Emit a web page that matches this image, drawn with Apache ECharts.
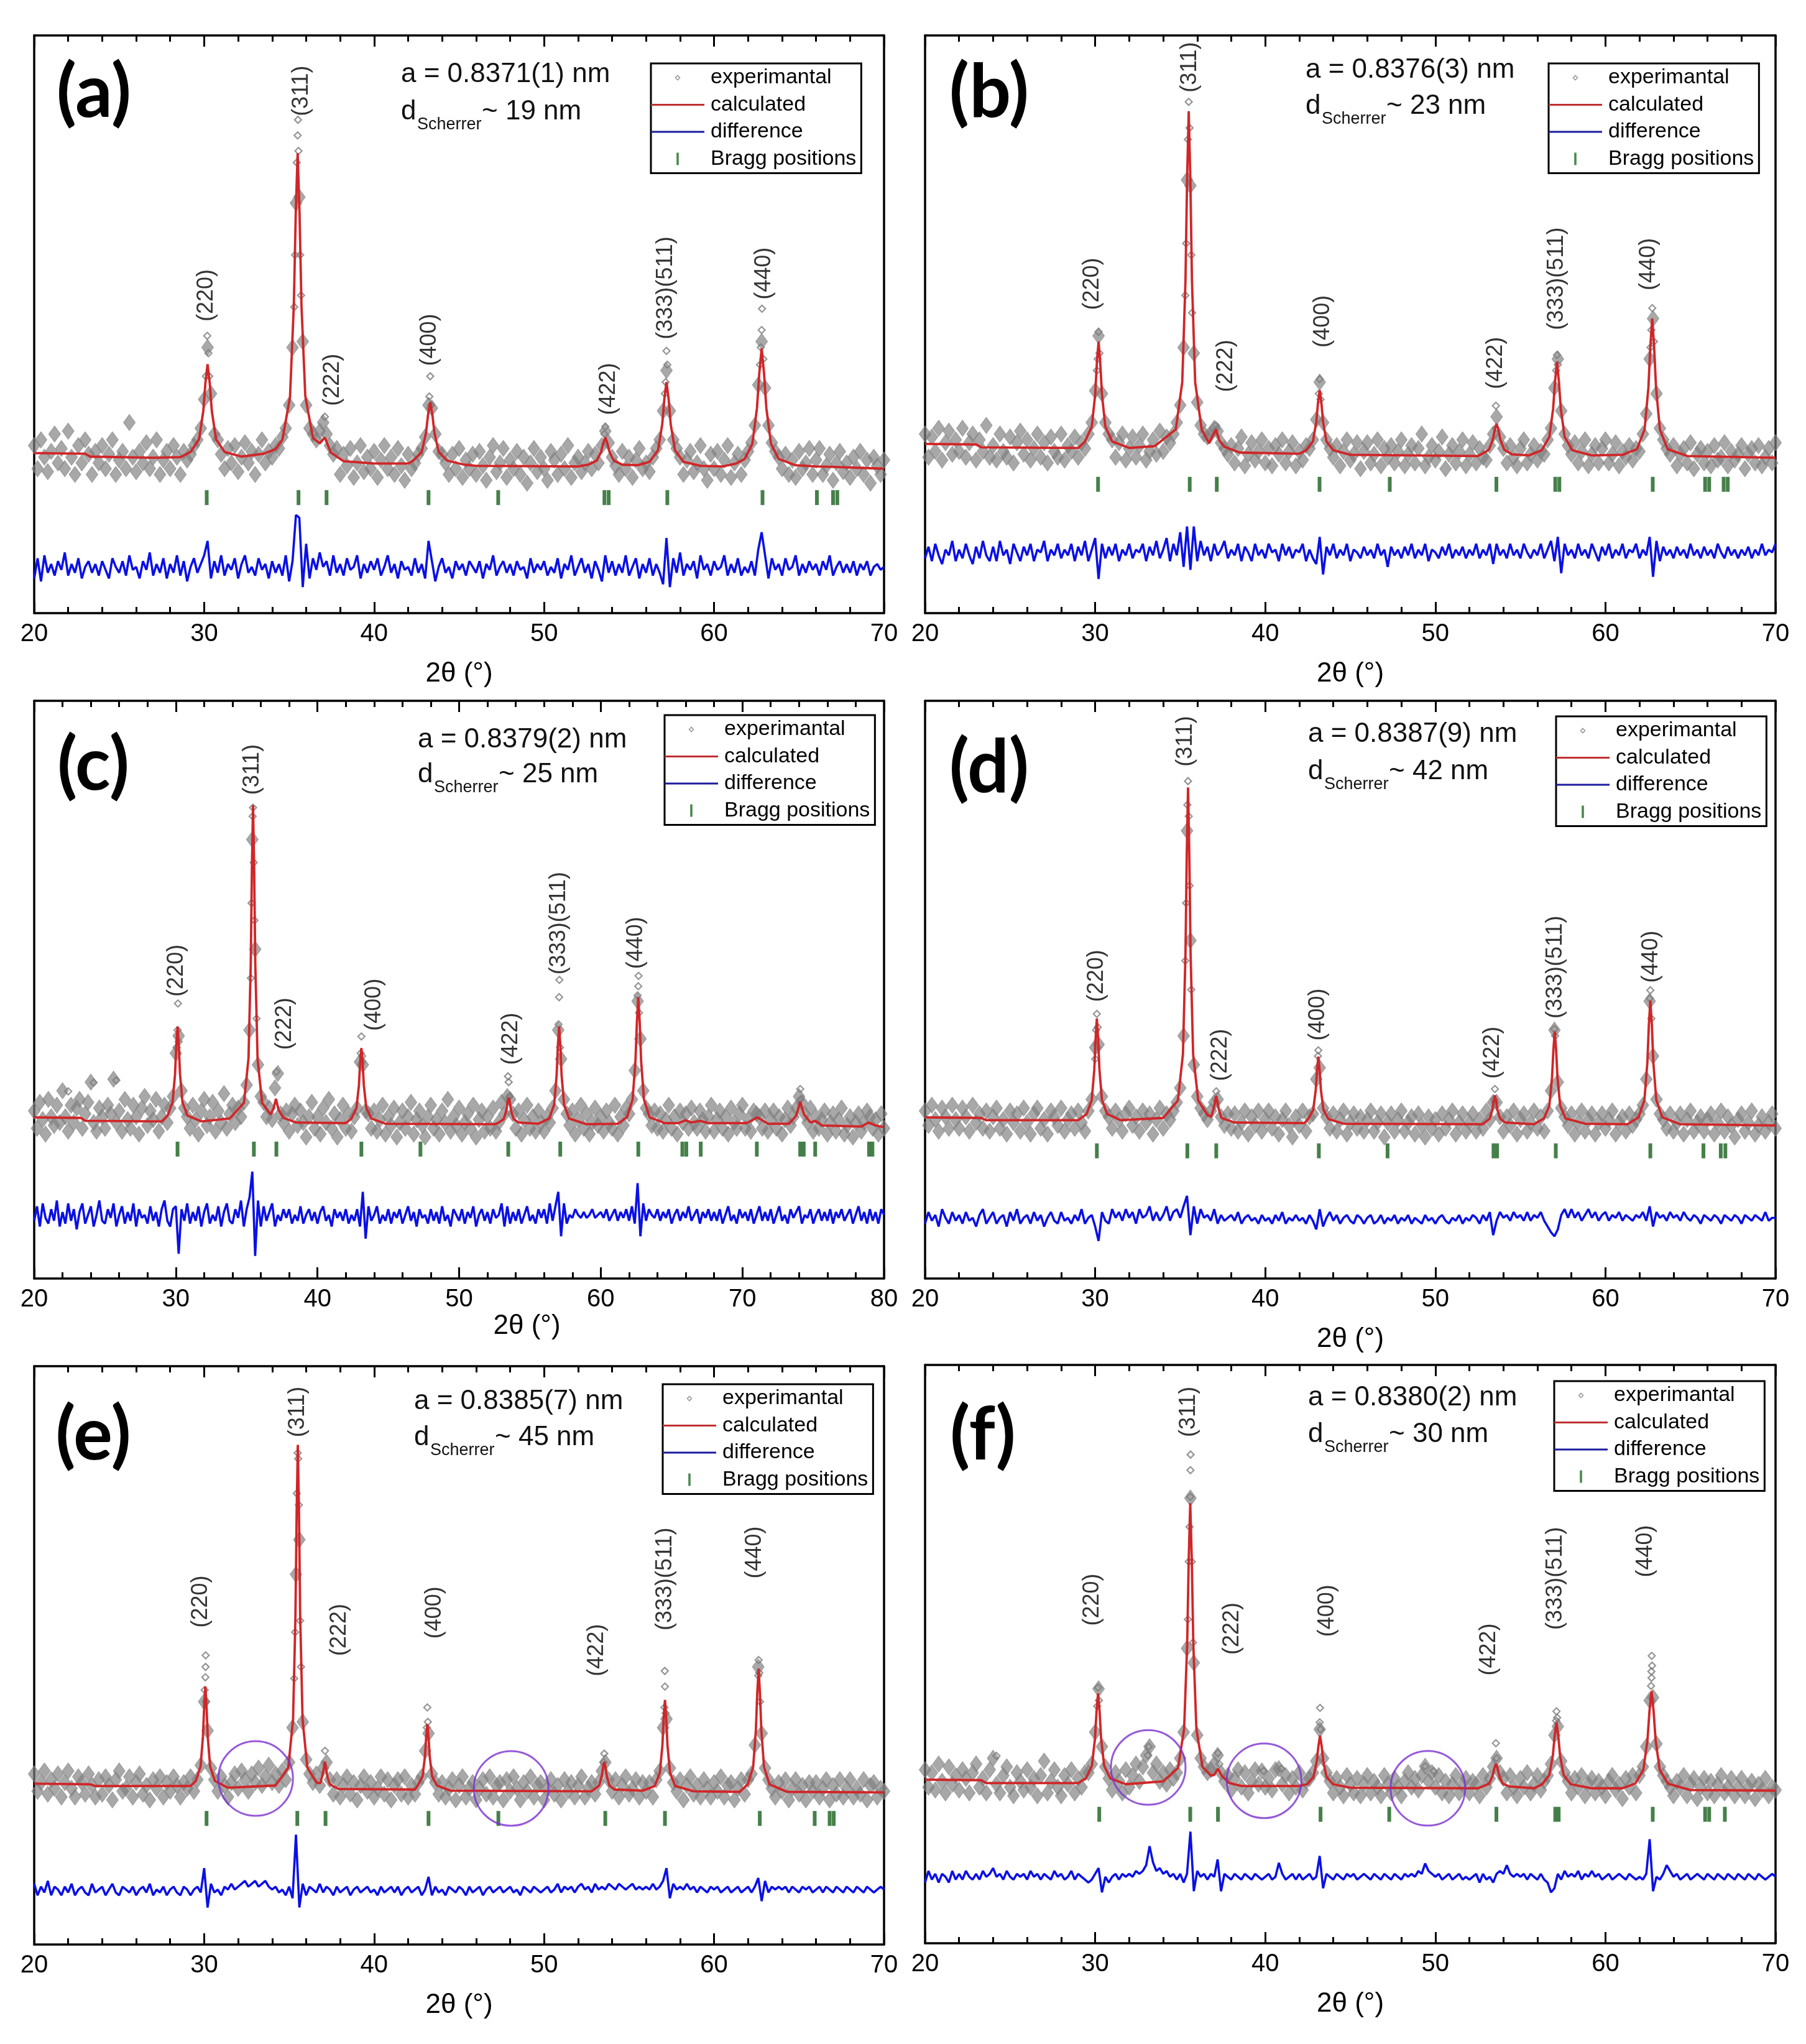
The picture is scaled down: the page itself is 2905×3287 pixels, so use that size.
<!DOCTYPE html>
<html lang="en">
<head>
<meta charset="UTF-8">
<title>XRD Rietveld refinement (a)-(f)</title>
<script src="https://cdn.jsdelivr.net/npm/echarts/dist/echarts.min.js"></script>
<style>
  html, body { margin: 0; padding: 0; background: #fff; }
  #chart { width: 2905px; height: 3287px; }
</style>
</head>
<body>
<div id="chart"></div>
<script>
// experimental points and difference curve are sampled every 0.2 deg from 20 deg
const X0 = 20, STEP = 0.2;

// ---------- panel (a) ----------
const calcA = [[20,27.7],[23,27.6],[23.3,27.1],[27,26.9],[28.6,27.0],[29.2,27.9],[29.7,30.1],[29.95,35.0],[30.075,39.9],[30.2,43.1],[30.325,39.9],[30.45,35.0],[30.7,30.1],[31.2,27.9],[32.2,27.1],[33.5,27.6],[34.2,28.4],[34.6,30.0],[35.05,37.4],[35.275,53.3],[35.39,69.4],[35.5,79.6],[35.61,69.4],[35.725,53.3],[35.95,37.6],[36.4,30.3],[36.8,29.4],[37.1,30.4],[37.45,27.8],[38.2,26.3],[40,25.9],[42,25.9],[42.3,26.4],[42.8,27.9],[43.05,31.2],[43.175,34.4],[43.3,36.5],[43.425,34.4],[43.55,31.2],[43.8,27.9],[44.3,26.4],[45.3,25.7],[46,25.5],[52,25.4],[52.6,25.7],[53.1,26.4],[53.35,27.9],[53.475,29.4],[53.6,30.4],[53.725,29.4],[53.85,27.9],[54.1,26.4],[54.6,25.7],[55.5,25.6],[56.2,26.2],[56.7,28.2],[56.95,32.7],[57.075,37.1],[57.2,40.0],[57.325,37.1],[57.45,32.7],[57.7,28.2],[58.2,26.2],[59.2,25.5],[60.5,25.4],[61.3,25.9],[61.8,26.7],[62.25,29.3],[62.525,35.5],[62.66,41.5],[62.8,45.8],[62.94,41.5],[63.075,35.5],[63.35,29.3],[63.8,26.7],[64.8,25.6],[66,25.4],[67.1,25.3],[70,25.0]];
const expA = [
  29, 25, 30, 27, 24.5, 28, 31, 26, 28.5, 25,
  31.5, 27, 24, 29, 26, 30, 27.5, 24, 28, 26,
  29, 25, 27.5, 30, 24, 26.5, 28, 25, 33, 27,
  24.5, 28, 26, 29.5, 25, 27, 30, 24, 26.5, 28,
  25, 29, 27, 24, 28, 26.5, 27.5, 29, 30, 32,
  37, 46, 38, 31, 30, 27.5, 25, 28.5, 26, 29,
  24.5, 27, 29.5, 26, 28, 24, 27.5, 30, 26, 28,
  27, 29, 28.5, 30.5, 32, 36, 46, 71, 72, 47,
  36, 32, 31, 30, 31.5, 33, 31, 29, 27.5, 28.5,
  24, 27.5, 25.5, 28.5, 23.5, 26, 29, 24.5, 27, 25,
  28, 23.5, 26.5, 29, 25, 27, 24, 28.5, 25.5, 23,
  27.5, 25, 26, 27.5, 28.5, 30.5, 36, 35.5, 31, 28,
  27.5, 26, 24, 27.5, 25, 28.5, 23.5, 26.5, 25, 27.5,
  24, 28, 25.5, 23, 27, 29, 24.5, 26, 28.5, 23.5,
  26.5, 25, 28, 24, 27, 22.5, 26, 28.5, 24.5, 27,
  25, 23, 28, 26.5, 24, 27.5, 25, 29, 23.5, 26,
  27, 24.5, 26, 28, 25, 27.5, 26, 29, 31.5, 29.5,
  27, 25.5, 24, 28, 25, 27, 23.5, 26.5, 28.5, 25,
  26, 24.5, 27, 28.5, 30, 35, 42, 35, 30, 28.5,
  27, 24, 26.5, 28, 24.5, 26, 29, 25, 23, 27.5,
  25, 28, 24, 26.5, 29, 23.5, 26, 27.5, 24, 26.5,
  28, 29.5, 32.5, 39.5, 47, 39, 32.5, 29.5, 28, 27,
  25, 27.5, 24, 26.5, 23.5, 28, 25, 26, 28.5, 24,
  26.5, 28.5, 24, 25.5, 27.5, 23, 26, 28, 24.5, 26,
  23.5, 27, 25, 28, 24, 26.5, 22.5, 27, 25.5, 24,
  26.5];
const expTopA = [[30.1,41],[30.25,45],[30.18,48],[30.3,41],[35.45,78],[35.5,82.7],[35.52,85.4],[35.35,62],[35.55,80],[35.65,62],[35.3,53],[35.7,55],[37.1,34],[43.25,37.5],[43.3,41],[43.35,36],[53.55,31],[53.6,32.3],[57.15,40],[57.2,45.4],[57.25,43],[57.1,38],[62.75,46],[62.8,49],[62.82,52.7],[62.7,43],[62.9,44]];
const diffA = [
  6, 9.5, 5.5, 10, 7, 8.5, 6.5, 9, 7.5, 10.5,
  6.5, 8.5, 7, 9.5, 6, 8, 9, 7, 8.5, 6.5,
  9, 7.5, 6, 9.5, 8, 7, 9, 6.5, 10, 7.5,
  8, 6, 9, 7.5, 10.5, 6.5, 8.5, 7, 9.5, 6,
  8.5, 7, 10, 6.5, 9, 5.5, 8, 9.5, 7, 8.5,
  10, 12.5, 6, 9, 7, 10, 6.5, 8.5, 7.5, 9.5,
  6, 8.5, 10, 7, 8, 6.5, 9.5, 7.5, 8.5, 6,
  9, 7, 8.5, 6.5, 10, 5.5, 9, 17, 16.5, 4.5,
  12, 6, 9.5, 7.5, 10.5, 8, 9, 6.5, 10, 7,
  8.5, 6.5, 9.5, 7.5, 8, 10, 6, 8.5, 7, 9,
  7.5, 9.5, 6.5, 8, 10, 7, 8.5, 6, 9, 7.5,
  8, 6.5, 9.5, 7, 8.5, 6, 12.5, 9, 5.5, 8,
  9.5, 7, 8, 6, 9, 7.5, 8.5, 6.5, 9, 8,
  7, 9, 6, 8.5, 7.5, 10, 6.5, 8, 9, 7,
  8.5, 6.5, 9, 7.5, 8, 6, 9.5, 7, 8.5, 7.5,
  9, 6.5, 8, 7, 9.5, 6, 8.5, 7.5, 10, 6.5,
  8, 9.5, 7, 8.5, 6, 9, 7.5, 5.5, 10, 7,
  9, 6.5, 8.5, 7, 10, 6.5, 8, 9.5, 6, 8.5,
  7, 9.5, 6.5, 8.5, 7, 5, 13, 4.5, 9.5, 7,
  10.5, 6.5, 8.5, 7.5, 9, 6, 10, 7.5, 8.5, 6.5,
  9, 7.5, 8, 10, 6.5, 8.5, 7, 9.5, 6.5, 8,
  7, 9, 6.5, 11, 14, 10, 6, 9.5, 7.5, 8.5,
  6.5, 9.5, 7.5, 8, 10, 6.5, 8.5, 7, 9, 7.5,
  8.5, 6.5, 9, 7.5, 10, 6.5, 8, 9, 7, 8.5,
  7, 9, 6.5, 8.5, 7.5, 9, 6.5, 8, 8.5, 7.5,
  8];
const braggA = [30.15, 35.55, 37.2, 43.2, 47.3, 53.55, 53.8, 57.25, 62.85, 66.05, 67.0, 67.25];
const hklA = [[30.15,55.0,'(220)'],[35.72,90.4,'(311)'],[37.55,40.4,'(222)'],[43.26,47.3,'(400)'],[53.8,38.8,'(422)'],[57.16,56.3,'(333)(511)'],[62.95,58.8,'(440)']];

// ---------- panel (b) ----------
const calcB = [[20,29.3],[23,29.2],[23.3,28.7],[29,28.6],[29.4,29.7],[29.8,32.3],[30.0,37.8],[30.1,43.3],[30.2,47.0],[30.3,43.3],[30.4,37.8],[30.6,32.3],[31.0,29.7],[32.0,28.6],[33.5,28.9],[34.74,31.8],[35.12,40.0],[35.31,57.6],[35.405,75.2],[35.5,86.9],[35.595,75.2],[35.69,57.6],[35.88,40.0],[36.26,31.8],[36.7,29.4],[36.9,30.7],[37.1,31.8],[37.3,29.9],[37.6,28.8],[38.5,27.8],[42,27.6],[42.4,28.2],[42.8,29.7],[43.0,33.1],[43.1,36.4],[43.2,38.6],[43.3,36.4],[43.4,33.1],[43.6,29.7],[44.0,28.2],[45,27.4],[52.5,27.2],[52.7,27.5],[53.15,28.3],[53.375,30.0],[53.49,31.7],[53.6,32.8],[53.71,31.7],[53.825,30.0],[54.05,28.3],[54.5,27.5],[55.5,27.3],[56.25,28.2],[56.7,30.5],[56.925,35.4],[57.04,40.2],[57.15,43.5],[57.26,40.2],[57.375,35.4],[57.6,30.5],[58.05,28.2],[59.2,27.3],[61.0,27.4],[61.85,28.4],[62.3,31.8],[62.525,39.0],[62.64,46.2],[62.75,51.0],[62.86,46.2],[62.975,39.0],[63.2,31.8],[63.65,28.4],[64.8,27.2],[70,26.9]];
const expB = [
  31, 27, 30.5, 28, 32, 26.5, 29.5, 31.5, 27.5, 30,
  28, 32, 27, 29.5, 31, 26.5, 30, 28, 32.5, 27,
  29, 26.5, 31, 28, 27, 30.5, 26, 29.5, 31.5, 27.5,
  30, 26.5, 28.5, 31, 27, 29.5, 26, 30.5, 28, 27,
  31, 26.5, 29, 28, 30.5, 27, 29.5, 28.5, 31, 33,
  38.5, 48, 38, 33, 31, 30, 27, 29.5, 31, 26.5,
  28.5, 30.5, 27, 29, 31, 26.5, 28, 30, 27.5, 31.5,
  28, 30.5, 29.5, 31, 33, 36, 46, 75, 74, 45,
  36.5, 32.5, 31, 30.5, 31, 32, 31.5, 29.5, 28.5, 27.5,
  29, 26, 28.5, 30.5, 25.5, 27.5, 29.5, 26.5, 28, 30,
  26, 28.5, 25.5, 29, 27.5, 30, 26, 28, 29.5, 25.5,
  28, 26.5, 29, 28.5, 30, 33.5, 40, 33, 30, 28.5,
  27, 29, 25.5, 28, 30, 26.5, 27.5, 29.5, 25, 28,
  29.5, 26, 27.5, 30, 25.5, 28.5, 27, 29, 26, 28,
  30, 25.5, 27.5, 29, 26, 28.5, 31, 25.5, 27, 29,
  26.5, 28, 30.5, 25, 27.5, 29, 26, 28, 30, 25.5,
  27.5, 29.5, 26, 28.5, 27, 26.5, 29, 31, 34, 30.5,
  28.5, 26, 29, 27, 25.5, 28.5, 30, 26, 27.5, 29,
  26.5, 28, 27.5, 30, 32, 39, 44, 35, 31, 29,
  27.5, 29.5, 26, 28, 30, 25.5, 27.5, 29, 26, 28.5,
  30, 26, 27.5, 29.5, 25.5, 28, 27, 29, 26.5, 28.5,
  28, 31, 34.5, 44, 51, 38, 32, 30, 28.5, 27.5,
  29, 25.5, 27.5, 28.5, 26, 29.5, 25, 27.5, 28.5, 26,
  28, 25.5, 29, 26.5, 27, 29.5, 25.5, 28, 26.5, 27.5,
  29, 25, 27.5, 28.5, 26, 29, 25.5, 27, 28.5, 26,
  29.5];
const expTopB = [[30.1,42],[30.15,44],[30.25,45],[30.2,48.7],[35.45,82],[35.5,88.5],[35.55,84],[35.35,64],[35.65,62],[35.3,55],[35.7,52],[37.1,32.5],[43.15,38],[43.2,40.5],[43.25,37],[53.55,32],[53.56,35.9],[57.1,42],[57.15,44.7],[57.2,43],[62.65,46],[62.7,49],[62.75,52.8],[62.85,47]];
const diffB = [
  9.5, 11.5, 9, 12, 10, 8.5, 11, 10, 12.5, 9,
  11, 9.5, 12, 10, 8.5, 11.5, 9.5, 12.5, 10, 9,
  11.5, 9, 12.5, 10, 11, 8.5, 12, 10.5, 9, 11.5,
  10, 12, 9, 11, 10.5, 12.5, 9, 11, 10, 12,
  9.5, 11, 10, 12, 9, 11.5, 10, 12.5, 9, 11,
  13, 5.9, 12, 9.5, 11.5, 10, 12, 9, 11, 10,
  12, 9.5, 11, 10.5, 12, 9, 11.5, 10, 12.5, 9.5,
  11, 13, 9, 12, 10, 14, 8, 15, 7.5, 15,
  9, 12.5, 10, 11.5, 9, 12, 10, 11, 12.5, 9.5,
  11, 10, 12, 9, 11.5, 10.5, 9, 12, 10, 11,
  9.5, 12, 10.5, 11, 9, 12, 10, 11.5, 9.5, 11,
  10.5, 12, 9, 11, 9.5, 8.5, 13.2, 6.7, 11.5, 10,
  12, 9.5, 11, 10, 12, 9, 11, 10.5, 9.5, 11.5,
  10, 11, 9.5, 12, 10, 11, 8, 11.5, 10, 11,
  9.5, 11.5, 10, 12, 9.5, 11, 10, 12, 9, 11,
  10.5, 9.5, 11.5, 10, 12, 9.5, 11, 10, 11.5, 9.5,
  11, 10, 12, 9.5, 11, 10, 12, 8.5, 12, 10,
  11, 9.5, 12, 10, 11, 9.5, 12, 10.5, 9.5, 11,
  10, 12, 9.5, 11, 12.5, 9, 13.2, 6.9, 12, 10,
  11, 9.5, 12, 10, 11, 9.5, 12, 10.5, 9, 11.5,
  10, 12, 9.5, 11, 10, 12, 9.5, 11, 10.5, 12,
  9.5, 11, 10, 13.2, 6.3, 12.5, 9, 11.5, 10, 11,
  9.5, 11.5, 10, 11, 9.5, 12, 10, 11, 9.5, 11.5,
  10, 11, 9.5, 12, 10.5, 9.5, 11.5, 10, 11, 9.5,
  11, 10, 11.5, 9.5, 11, 10, 12, 10, 11, 10.5,
  12];
const braggB = [30.17, 35.56, 37.15, 43.19, 47.32, 53.59, 57.05, 57.29, 62.78, 65.86, 66.1, 66.95, 67.19];
const hklB = [[29.83,57.0,'(220)'],[35.59,94.5,'(311)'],[37.7,42.8,'(222)'],[43.39,50.5,'(400)'],[53.56,43.3,'(422)'],[57.12,57.9,'(333)(511)'],[62.54,60.4,'(440)']];

// ---------- panel (c) ----------
const calcC = [[20,27.9],[23.3,27.8],[23.6,27.3],[29,27.2],[29.42,28.2],[29.77,30.5],[29.945,35.4],[30.03,40.3],[30.12,43.6],[30.21,40.3],[30.295,35.4],[30.47,30.5],[30.82,28.2],[31.8,27.2],[33.8,27.7],[34.81,30.4],[35.13,38.1],[35.29,54.5],[35.37,71.0],[35.45,81.9],[35.53,71.0],[35.61,54.5],[35.77,38.1],[36.09,30.4],[36.7,28.4],[36.9,29.5],[37.07,31.1],[37.25,29.2],[37.6,27.8],[38.5,27.0],[42.0,26.9],[42.4,27.7],[42.75,29.5],[42.925,33.4],[43.01,37.3],[43.1,39.9],[43.19,37.3],[43.275,33.4],[43.45,29.5],[43.8,27.7],[44.8,26.8],[52.5,26.7],[52.8,27.0],[53.15,27.6],[53.325,29.0],[53.41,30.4],[53.5,31.3],[53.59,30.4],[53.675,29.0],[53.85,27.6],[54.2,27.0],[55.6,26.8],[56.36,27.7],[56.71,30.1],[56.885,35.2],[56.97,40.2],[57.06,43.6],[57.15,40.2],[57.235,35.2],[57.41,30.1],[57.76,27.7],[59.0,26.7],[61.2,26.8],[61.85,27.9],[62.25,31.0],[62.45,37.7],[62.55,44.3],[62.65,48.7],[62.75,44.3],[62.85,37.7],[63.05,31.0],[63.45,27.9],[64.5,26.9],[65.5,26.9],[66.0,27.4],[66.4,27.0],[67.0,27.3],[67.6,26.9],[70.3,26.9],[71.06,27.9],[71.8,26.8],[73.3,26.8],[73.8,28.2],[74.08,30.6],[74.35,28.4],[74.8,27.0],[75.14,27.3],[75.6,26.5],[78.4,26.3],[78.9,27.0],[79.4,26.5],[80,26.2]];
const expC = [
  29, 26, 30.5, 27.5, 25, 31, 28, 26.5, 30, 27,
  32.5, 28, 25.5, 30, 27, 29.5, 31, 26, 28.5, 30.5,
  34, 27, 25.5, 29.5, 28, 26, 30, 28.5, 34.5, 27,
  29, 25.5, 31, 27.5, 26, 30, 28, 25, 29.5, 31.5,
  26.5, 29, 27.5, 31, 25.5, 28, 30, 27, 29.5, 31.5,
  39, 42, 32.5, 29.5, 28, 26, 30, 27.5, 25, 29,
  31, 26.5, 28, 30.5, 25.5, 29, 27, 32, 26, 28.5,
  30, 27, 29.5, 28, 30.5, 33.5, 43, 76, 57, 37,
  31.5, 30.5, 28, 29.5, 27.5, 33, 35.5, 28.5, 27, 29,
  25.5, 28.5, 30, 26.5, 29, 27, 24.5, 28, 30.5, 26,
  28, 25, 29.5, 27, 31, 26, 28.5, 24.5, 27.5, 30,
  26, 28.5, 25.5, 28, 29.5, 37.5, 37, 29, 28.5, 26,
  29, 25.5, 27.5, 30, 25, 28, 26.5, 29.5, 24.5, 27,
  29, 26, 28, 30.5, 25, 27.5, 29, 26.5, 24.5, 28,
  30, 26, 27.5, 25, 29, 27, 31, 25.5, 28, 26.5,
  29.5, 25, 27, 28.5, 26, 30, 24.5, 27.5, 29, 25.5,
  28, 26, 29.5, 25.5, 27, 30.5, 28.5, 31.5, 31, 28.5,
  26, 29, 25, 27.5, 30, 26, 28, 25.5, 29, 27,
  25.5, 28, 27, 29.5, 32.5, 43, 38, 31, 28.5, 26.5,
  29, 25, 27.5, 30, 26, 28.5, 25, 27, 29.5, 26.5,
  28, 25.5, 29, 27, 26, 30, 25, 28, 26.5, 29.5,
  28.5, 31, 36, 48, 41.5, 32.5, 29.5, 28.5, 26.5, 29,
  26, 28.5, 25.5, 27.5, 30, 26, 28, 25, 29, 27,
  28.5, 26, 29.5, 27, 26, 29, 27.5, 25.5, 28, 30,
  25.5, 27.5, 29, 26, 28, 25, 29.5, 27, 26, 28.5,
  30, 26, 27.5, 25.5, 29, 28.5, 28, 26, 29, 25.5,
  27.5, 29, 26, 28, 25, 27.5, 29.5, 26.5, 28, 29.5,
  31.5, 30.5, 28.5, 27, 29.5, 25.5, 28, 26, 27.5, 29,
  25, 27, 28.5, 25.5, 27.5, 29.5, 25, 26.5, 28, 24.5,
  27, 28.5, 25.5, 27, 29, 28, 26, 27.5, 25, 28.5,
  26];
const expTopC = [[22.4,32.4],[24.2,33.9],[25.8,34.3],[30.05,40],[30.12,43],[30.15,47.6],[30.2,41],[35.3,52],[35.35,65],[35.42,80],[35.45,81.5],[35.5,72],[35.55,62],[35.7,45],[37.1,35.8],[43.05,39],[43.1,41.9],[43.15,38.5],[53.45,35],[53.5,34],[53.55,31.5],[57.02,44],[57.06,48.7],[57.08,51.7],[57.12,40],[62.6,49],[62.65,50.6],[62.67,52.4],[62.7,46],[74.08,32.8],[74.1,31]];
const diffC = [
  10, 12.5, 9, 13, 10.5, 9.5, 12, 10, 13.5, 9,
  11.5, 9.5, 13, 10, 12, 8.5, 11.5, 13, 9.5, 11,
  12.5, 9, 11, 13.5, 10, 9.5, 12, 10.5, 13, 9,
  11, 12.5, 9.5, 11.5, 10, 13, 9, 12, 10.5, 11,
  9.5, 12.5, 10, 11.5, 9, 12, 13.5, 10, 9, 12,
  12.5, 4.3, 12, 10, 13, 9.5, 11.5, 10, 12.5, 9,
  11.5, 13, 9.5, 11, 10, 12.5, 9, 11.5, 13, 10,
  9.5, 12, 10.5, 13.5, 9, 12, 14, 18.5, 3.9, 13.5,
  9, 12.5, 10, 11.5, 13, 9, 11, 10, 12, 10.5,
  12, 9.5, 11, 10, 12.5, 9.5, 11, 12, 10, 11.5,
  9.5, 11.5, 12.5, 10, 11, 9, 12, 10.5, 11.5, 10,
  12, 9.5, 11, 10, 12, 9, 15, 6.9, 12.5, 10,
  11, 12.5, 9.5, 11, 10, 12, 9.5, 11.5, 10.5, 12,
  9.5, 11, 12.5, 10, 11.5, 9, 12, 10.5, 11, 9.5,
  12, 10, 11.5, 9.5, 12.5, 10, 11, 9, 12, 11,
  10, 12, 9.5, 11.5, 10.5, 12.5, 9, 11, 12, 10,
  11.5, 9.5, 12, 10.5, 11, 13, 9, 12.5, 9.5, 11.5,
  10, 12, 9.5, 11, 12.5, 10, 11, 9.5, 12, 10.5,
  12, 9.5, 13, 10, 12.5, 15, 7.3, 13, 9.5, 11,
  10.5, 12, 11, 10.5, 11.5, 10.5, 11, 12, 10.5, 11,
  11.5, 10.5, 12, 10, 11, 12, 10, 11.5, 10.5, 12,
  10, 12.5, 9.5, 16.5, 7.3, 13, 10, 12, 11, 10.5,
  12, 10, 11.5, 10.5, 12, 9.5, 11, 12, 10, 11.5,
  10.5, 12.5, 10, 11, 12, 9.5, 11.5, 10.5, 12, 10,
  11.5, 10, 12, 9.5, 11, 12.5, 10, 11, 9.5, 12,
  10.5, 11.5, 10, 12, 9.5, 11, 12.5, 10, 11.5, 10,
  12, 9.5, 11, 12.5, 10, 11, 9.5, 12, 10.5, 11.5,
  12.5, 9.5, 11, 10.5, 12, 9.5, 11, 12, 10, 11.5,
  10, 12, 9.5, 11.5, 10.5, 12, 10, 11, 12, 9.5,
  11, 12.5, 10, 11.5, 9.5, 12, 10, 11.5, 9.5, 12,
  11];
const braggC = [30.12, 35.51, 37.1, 43.1, 47.27, 53.47, 57.14, 62.65, 65.76, 66.04, 67.06, 71.02, 74.08, 74.33, 75.14, 78.94, 79.18];
const hklC = [[30.04,53.3,'(220)'],[35.43,88.1,'(311)'],[37.67,44.1,'(222)'],[44.0,47.4,'(400)'],[53.67,41.5,'(422)'],[57.06,61.5,'(333)(511)'],[62.49,58.1,'(440)']];

// ---------- panel (d) ----------
const calcD = [[20,27.9],[23.3,27.8],[23.6,27.4],[29,27.4],[29.5,28.5],[29.8,30.9],[29.95,36.2],[30.025,41.5],[30.1,45.0],[30.175,41.5],[30.25,36.2],[30.4,30.9],[30.7,28.5],[31.5,27.4],[34.0,27.8],[34.86,30.8],[35.16,38.8],[35.31,56.2],[35.385,73.5],[35.46,85.0],[35.535,73.5],[35.61,56.2],[35.76,38.8],[36.06,30.8],[36.6,28.3],[36.82,28.0],[36.97,29.5],[37.12,31.6],[37.27,29.3],[37.42,27.8],[38.2,27.0],[42.3,26.9],[42.52,27.6],[42.82,29.2],[42.97,32.7],[43.045,36.1],[43.12,38.4],[43.195,36.1],[43.27,32.7],[43.42,29.2],[43.72,27.6],[44.6,26.8],[52.8,26.7],[52.9,27.0],[53.2,27.7],[53.35,29.2],[53.425,30.7],[53.5,31.7],[53.575,30.7],[53.65,29.2],[53.8,27.7],[54.1,27.0],[55.8,26.7],[56.38,27.7],[56.7,29.9],[56.86,34.8],[56.94,39.6],[57.02,42.8],[57.1,39.6],[57.18,34.8],[57.34,29.9],[57.66,27.7],[58.8,26.8],[61.3,26.7],[61.94,27.9],[62.29,30.9],[62.465,37.4],[62.55,43.8],[62.64,48.1],[62.73,43.8],[62.815,37.4],[62.99,30.9],[63.34,27.9],[64.4,26.7],[70,26.5]];
const expD = [
  29, 26.5, 30, 27.5, 25.5, 29.5, 28, 26, 30, 27.5,
  26, 29.5, 28, 25.5, 30, 27, 28.5, 26, 29, 25.5,
  28, 29.5, 26, 27.5, 25, 29, 27, 28.5, 25.5, 29.5,
  27, 25, 28.5, 29.5, 26, 27.5, 25, 29, 28, 26.5,
  29.5, 25.5, 27.5, 28.5, 26, 29, 27, 25.5, 29, 31,
  40, 40.5, 31.5, 29, 28, 26, 29, 27.5, 25.5, 28.5,
  29.5, 26.5, 28, 25.5, 29, 27, 28.5, 25, 27.5, 29.5,
  26, 28.5, 27.5, 29, 30.5, 33, 42, 77.5, 58.5, 37,
  31.5, 29.5, 28.5, 27.5, 29, 30.5, 31, 28, 26.5, 28.5,
  26, 28.5, 25.5, 27, 29, 25, 28, 26.5, 29, 25.5,
  27.5, 29, 26, 28, 25, 27.5, 29, 26.5, 24.5, 28,
  26.5, 29, 25.5, 28, 28.5, 34.5, 36.5, 29.5, 28, 26,
  28.5, 25.5, 27.5, 29, 25, 27, 28.5, 26, 28, 25.5,
  27.5, 29, 25.5, 27, 28.5, 24.5, 27, 28.5, 25.5, 27.5,
  29, 25.5, 27, 28, 25, 28.5, 26.5, 24.5, 28, 26,
  27.5, 25, 28.5, 26, 27.5, 29, 25, 27, 28.5, 25.5,
  27, 28.5, 25.5, 27.5, 26, 29, 27.5, 30.5, 30.5, 28,
  25.5, 28, 26.5, 29, 25, 27.5, 28.5, 25.5, 27, 29,
  26, 28, 25.5, 29, 32.5, 43, 34, 29.5, 28, 26.5,
  28.5, 25, 27, 29, 25.5, 27.5, 28.5, 25, 27, 28.5,
  26, 27.5, 29, 25, 27, 28, 25.5, 28.5, 26.5, 27.5,
  28.5, 30, 34.5, 48, 38.5, 31, 28.5, 27.5, 26, 28.5,
  25.5, 27, 28.5, 25, 27.5, 29, 25.5, 27, 28, 25.5,
  27.5, 28.5, 25, 27, 29, 25.5, 28, 26.5, 24.5, 27.5,
  28.5, 25.5, 27, 29, 25, 26.5, 28, 25.5, 27, 28.5,
  26];
const expTopD = [[30.0,38],[30.05,43],[30.1,45.8],[30.15,43.5],[35.3,55],[35.35,65],[35.42,82],[35.46,86.1],[35.5,80],[35.55,68],[35.65,50],[37.12,32.4],[43.1,38.5],[43.12,39.5],[53.45,31],[53.5,32.8],[57.0,43.2],[57.04,42],[62.6,48.5],[62.64,49.9],[62.7,45]];
const diffD = [
  9.5, 11.5, 10, 11, 9, 12, 10.5, 9.5, 11.5, 10,
  11, 9.5, 11.5, 10, 10.5, 9, 11, 12, 9.5, 10.5,
  11.5, 9.5, 10.5, 11, 9, 11.5, 10, 12, 9.5, 10.5,
  11, 9.5, 11.5, 10, 11, 9, 10.5, 11.5, 10, 9.5,
  11.5, 10, 10.5, 9.5, 11, 10, 12, 9.5, 10.5, 11,
  9, 6.5, 11.5, 10, 9.5, 12, 10.5, 11.5, 10, 12,
  10.5, 11.5, 9.5, 12, 10.5, 11, 12.5, 10, 11.5, 10,
  11, 12.5, 10, 11.5, 12, 10.5, 12.5, 14.3, 7.5, 12.5,
  9.5, 12, 10.5, 11, 10, 12, 9.5, 11, 10, 10.5,
  11, 10, 11.5, 9.5, 10.5, 11, 10, 10.5, 9.5, 11,
  10, 10.5, 9.5, 11, 10, 11.5, 9.5, 10.5, 10, 11,
  10, 10.5, 9.5, 11, 10, 8.5, 12, 9, 10.5, 11.5,
  10, 11, 9.5, 10.5, 11, 10, 9.5, 11, 10.5, 9.5,
  10.5, 11, 9.5, 10, 11, 9.5, 10.5, 10, 11, 9.5,
  10.5, 10, 11, 9.5, 10.5, 10, 9.5, 11, 10, 10.5,
  9.5, 10.5, 11, 10, 9.5, 10.5, 10, 11, 9.5, 10.5,
  10, 11, 10.5, 9.5, 11, 10, 11.5, 7.5, 10, 11.5,
  10.5, 11, 10, 11.5, 10.5, 11, 10, 11.5, 10, 11,
  10.5, 11.5, 10, 9, 8, 7.3, 8.5, 11, 12, 10.5,
  12, 10.5, 11.5, 10, 11, 12, 10.5, 11.5, 10, 11,
  11.5, 10, 11, 10.5, 11.5, 10, 11, 10.5, 10, 11,
  10.5, 11.5, 10, 12.5, 9, 11.5, 10.5, 11, 10, 11.5,
  10.5, 11, 10, 11.5, 10.5, 10, 11, 10.5, 9.5, 11,
  10.5, 10, 11, 10.5, 9.5, 11, 10.5, 10, 11, 10.5,
  9.5, 11, 10.5, 10, 11, 10.5, 10, 11.5, 10, 10.5,
  10.5];
const braggD = [30.1, 35.42, 37.12, 43.15, 47.19, 53.42, 53.63, 57.08, 62.64, 65.76, 66.78, 67.05];
const hklD = [[30.1,52.4,'(220)'],[35.32,93.0,'(311)'],[37.36,38.7,'(222)'],[43.12,45.7,'(400)'],[53.39,39.1,'(422)'],[57.05,53.9,'(333)(511)'],[62.71,55.7,'(440)']];

// ---------- panel (e) ----------
const calcE = [[20,27.8],[23.3,27.7],[23.6,27.4],[29.2,27.4],[29.51,28.3],[29.79,30.8],[29.93,36.0],[30.0,41.1],[30.07,44.6],[30.14,41.1],[30.21,36.0],[30.35,30.8],[30.63,28.3],[31.4,27.1],[34.2,27.5],[34.95,30.6],[35.23,38.9],[35.37,56.7],[35.44,74.5],[35.51,86.4],[35.58,74.5],[35.65,56.7],[35.79,38.9],[36.07,30.6],[36.6,28.0],[36.83,27.9],[36.97,29.4],[37.04,30.5],[37.11,31.6],[37.18,30.3],[37.25,29.0],[37.39,27.7],[37.9,26.9],[42.4,26.8],[42.57,27.5],[42.85,29.1],[42.99,32.5],[43.06,35.8],[43.13,38.1],[43.2,35.8],[43.27,32.5],[43.41,29.1],[43.69,27.5],[44.5,26.6],[52.8,26.5],[52.94,26.8],[53.24,27.5],[53.39,29.1],[53.465,30.6],[53.54,31.6],[53.615,30.6],[53.69,29.1],[53.84,27.5],[54.14,26.8],[55.8,26.6],[56.51,27.4],[56.81,29.7],[56.96,34.4],[57.035,39.1],[57.11,42.3],[57.185,39.1],[57.26,34.4],[57.41,29.7],[57.71,27.4],[58.8,26.5],[61.5,26.4],[61.98,27.7],[62.3,30.7],[62.46,37.1],[62.54,43.4],[62.62,47.7],[62.7,43.4],[62.78,37.1],[62.94,30.7],[63.26,27.7],[64.3,26.4],[70,26.3]];
const expE = [
  29.5, 26.5, 28, 30, 26, 28.5, 27, 29.5, 25.5, 28,
  30, 27, 25.5, 29, 28, 26, 29.5, 27.5, 25.5, 28.5,
  26, 29, 27.5, 25, 28.5, 30, 26.5, 27, 29, 25.5,
  28, 29.5, 26, 27.5, 25, 28.5, 27, 29, 25.5, 28,
  26.5, 29, 27.5, 25.5, 28, 27, 29, 26.5, 28.5, 31,
  42, 37, 30.5, 28.5, 26.5, 29, 27.5, 25.5, 28, 29.5,
  27, 30, 28.5, 26.5, 29.5, 28, 30.5, 27.5, 29, 31,
  28, 29.5, 27.5, 30, 28.5, 31.5, 37.5, 64, 70, 38.5,
  32, 29.5, 28, 29.5, 27.5, 30.5, 31.5, 28.5, 26, 28.5,
  25.5, 27.5, 29, 26, 28, 25, 27.5, 29, 26.5, 28,
  25.5, 27, 29, 26, 28.5, 25, 27.5, 28.5, 26, 29,
  25.5, 27.5, 26, 28, 29, 33.5, 36.5, 29.5, 28, 26,
  28, 25.5, 27, 28.5, 25, 27.5, 29, 25.5, 27, 28,
  25, 27, 28.5, 26, 29, 25.5, 27.5, 28, 25, 28.5,
  26.5, 29, 27, 25, 28, 26.5, 29, 25.5, 27.5, 28,
  25, 27, 28.5, 26, 27.5, 25, 28.5, 26.5, 28, 25.5,
  27.5, 29, 25.5, 27, 28, 26, 28, 30, 31.5, 28.5,
  26.5, 28.5, 25.5, 27.5, 29, 26, 27, 28.5, 25.5, 28,
  26.5, 28, 25.5, 28.5, 30, 37.5, 39, 30.5, 28, 26.5,
  28.5, 25, 27.5, 29, 26, 27.5, 25.5, 28.5, 27, 25.5,
  28, 26.5, 29, 25.5, 27.5, 28, 25, 27, 28.5, 26,
  28.5, 29.5, 34.5, 48, 36.5, 30.5, 28.5, 27, 25.5, 28,
  26.5, 28.5, 25, 27, 28.5, 26, 27.5, 25, 28, 26.5,
  28, 25.5, 27, 28.5, 25, 27.5, 26, 28.5, 25.5, 27,
  28.5, 25.5, 27, 26, 28.5, 25, 27.5, 28, 25.5, 27,
  26.5];
const expTopE = [[30.03,44],[30.07,46.2],[30.08,48],[30.09,50],[30.1,42],[35.3,46],[35.35,54],[35.45,78],[35.5,85],[35.53,84],[35.57,76],[35.65,56],[35.7,48],[37.11,33.5],[43.1,37.5],[43.13,41],[43.16,38.5],[53.5,31.5],[53.54,33],[57.08,41],[57.1,47.3],[57.11,44.6],[57.15,40],[62.6,46.5],[62.62,49.2],[62.66,47],[62.7,42]];
const diffE = [
  10.5, 8.5, 10, 9, 11, 8.5, 10, 9.5, 8.5, 10,
  9, 10.5, 8.5, 9.5, 10, 9, 8.5, 10.5, 9, 9.5,
  10, 8.5, 9.5, 10.5, 9, 8.5, 10, 9.5, 9, 10,
  8.5, 9.5, 10, 9, 10.5, 8.5, 9.5, 9, 10, 8.5,
  9.5, 10, 9, 8.5, 10, 9.5, 8.5, 9.5, 10, 9,
  13.2, 6.4, 10.5, 9, 9.5, 8.5, 10, 9.5, 10.5, 9.5,
  10, 10.5, 11, 10, 10.5, 11, 10, 10.5, 11, 10,
  9.5, 10, 9, 9.5, 8.5, 10, 8, 19, 6.4, 10.5,
  8.5, 10, 9.5, 9, 10.5, 9, 10, 9.5, 8.5, 10,
  9, 9.5, 10, 8.5, 9.5, 10, 9, 9.5, 10, 9,
  9.5, 8.5, 10, 9, 9.5, 10, 9, 10, 8.5, 9.5,
  10, 9, 9.5, 10, 8.5, 9.5, 11.7, 8.5, 10, 9,
  9.5, 8.5, 10, 9.5, 9, 10, 9.5, 8.5, 10, 9,
  9.5, 10, 8.5, 9.5, 10, 9, 9.5, 10, 9, 9.5,
  10, 9, 9.5, 8.5, 10, 9.5, 9, 10, 9.5, 9,
  9.5, 10, 9, 9.5, 10.5, 9, 10, 9.5, 10, 9,
  10, 10.5, 9.5, 10, 9, 10.5, 9.5, 10, 9.5, 10.5,
  10, 9.5, 10.5, 10, 9.5, 10, 10.5, 9.5, 10, 9.5,
  10, 9.5, 10.5, 9.5, 10, 11, 13.2, 8, 10.5, 9.5,
  10, 9.5, 10.5, 9.5, 10, 9, 10, 9.5, 9, 10,
  9.5, 10, 9, 9.5, 10, 9, 9.5, 10, 9, 9.5,
  10, 9, 10, 11.5, 7.5, 11, 9, 10, 9.5, 10,
  9.5, 10, 9, 10, 9.5, 9, 10, 9.5, 10, 9,
  9.5, 10, 9, 10, 9.5, 9, 10, 9.5, 9, 10,
  9.5, 9, 10, 9.5, 9, 10, 9.5, 9, 9.5, 10,
  9.5];
const braggE = [30.14, 35.48, 37.14, 43.2, 47.31, 53.6, 57.11, 62.69, 65.92, 66.8, 67.04];
const hklE = [[29.8,59.3,'(220)'],[35.51,92.1,'(311)'],[37.96,54.4,'(222)'],[43.57,57.4,'(400)'],[53.1,50.9,'(422)'],[57.11,63.2,'(333)(511)'],[62.38,67.8,'(440)']];
const circlesE = [[33.03,28.7],[48.06,27.0]];

// ---------- panel (f) ----------
const calcF = [[20,28.3],[23.3,28.2],[23.6,27.7],[29.0,27.7],[29.45,28.5],[29.81,30.7],[29.99,35.4],[30.08,40.1],[30.17,43.2],[30.26,40.1],[30.35,35.4],[30.53,30.7],[30.89,28.5],[31.8,27.5],[34.0,28.0],[34.87,30.3],[35.23,37.1],[35.41,51.8],[35.5,66.4],[35.59,76.1],[35.68,66.4],[35.77,51.8],[35.95,37.1],[36.31,30.5],[36.8,29.0],[37.0,29.1],[37.22,30.2],[37.45,28.9],[37.9,27.7],[38.6,27.2],[42.0,27.2],[42.46,27.5],[42.84,28.8],[43.03,31.5],[43.125,34.1],[43.22,35.9],[43.315,34.1],[43.41,31.5],[43.6,28.8],[43.98,27.5],[45.0,26.9],[52.5,26.8],[52.76,27.1],[53.16,27.6],[53.36,28.9],[53.46,30.2],[53.56,31.0],[53.66,30.2],[53.76,28.9],[53.96,27.6],[54.36,27.1],[55.8,26.8],[56.28,27.5],[56.7,29.1],[56.91,32.5],[57.015,35.9],[57.12,38.2],[57.225,35.9],[57.33,32.5],[57.54,29.1],[57.96,27.5],[59.2,26.8],[61.0,26.8],[61.75,27.6],[62.23,30.0],[62.47,35.1],[62.59,40.2],[62.71,43.6],[62.83,40.2],[62.95,35.1],[63.19,30.0],[63.67,27.6],[65.0,26.5],[70,26.4]];
const expF = [
  30, 27, 29.5, 26.5, 31, 28, 26, 30.5, 27.5, 29,
  26.5, 30, 28.5, 26, 29.5, 31, 27, 28.5, 26, 30,
  32, 27.5, 26, 29, 30.5, 27, 25.5, 29.5, 28, 26.5,
  30, 27, 28.5, 25.5, 29, 31.5, 26, 28, 30, 27,
  25.5, 29, 27.5, 30, 26, 28.5, 27, 29.5, 29.5, 31,
  36.5, 44, 34, 30.5, 28.5, 26.5, 29.5, 28, 26, 30,
  27, 29, 31, 28, 30.5, 32.5, 34, 29.5, 31, 28,
  29.5, 27.5, 30, 28.5, 29.5, 32, 36.5, 51, 77, 48.5,
  36, 32, 30.5, 29.5, 30, 31, 32.5, 29.5, 28, 29,
  26.5, 28.5, 30, 27, 29.5, 26, 28, 30, 27.5, 29.8,
  27, 28.5, 26.5, 30, 30.2, 27.5, 29, 26, 28.5, 27,
  29.5, 26.5, 28, 28.5, 29.5, 31.5, 37, 32, 29.5, 28,
  26, 28.5, 27, 25.5, 29, 27.5, 26, 28.5, 25.5, 27.5,
  29, 26, 28, 27, 25.5, 29, 27.5, 26, 28.5, 27,
  25.5, 28, 29.5, 27, 28.5, 26.5, 29, 30.6, 28, 29.5,
  27, 29, 26, 28, 25.5, 27.5, 29, 26, 27.5, 28.5,
  26, 28, 27.5, 25.5, 29, 27, 28.5, 30.5, 32, 29.5,
  28.5, 26, 29, 27, 25.5, 28.5, 27, 29.5, 26, 27.5,
  29, 26.5, 28, 29, 31, 36, 37.5, 31.5, 29.5, 28,
  26, 28.5, 27, 29, 25.5, 27.5, 28.5, 26, 28, 27,
  25.5, 28, 29, 26.5, 27.5, 25, 28.5, 27, 29, 26,
  29, 30.5, 34, 42, 42.5, 34.5, 30.5, 29, 28, 27,
  25.5, 28, 27, 29, 25.5, 27.5, 28.5, 25, 27, 28.5,
  26, 28, 25.5, 27.5, 29, 26, 27, 28.5, 25.5, 27,
  28.5, 25.5, 27, 28, 25, 27.5, 26.5, 28.5, 25.5, 27,
  26.5];
const expTopF = [[24.2,32.4],[30.12,41],[30.17,44.2],[30.22,42],[33.1,32.5],[33.15,34],[35.45,56],[35.5,66],[35.55,72],[35.59,77.2],[35.6,81.8],[35.61,84.5],[35.68,66],[35.75,52],[37.22,32.9],[37.3,31],[39.9,29.8],[40.95,30.2],[43.2,38.2],[43.22,40.7],[43.25,37],[49.4,30.6],[49.9,29.8],[53.56,34.6],[53.6,32],[57.1,38.5],[57.12,40.1],[57.16,39],[62.68,44.5],[62.7,47],[62.71,45.9],[62.72,49.7],[62.74,48]];
const diffF = [
  10.5, 12.5, 11, 12, 10.5, 12, 11.5, 10.5, 12.5, 11,
  12, 11, 12.5, 11.5, 11, 12, 11, 12.5, 11.5, 12,
  13, 11.5, 12, 11, 12.5, 11.5, 11, 12, 11.5, 12,
  11, 12.5, 11.5, 12, 11, 12, 11.5, 11, 12.5, 11.5,
  12, 11, 11.5, 12.5, 11, 12, 11.5, 11, 10.5, 11,
  12, 13, 8.8, 11.5, 10.5, 11.5, 12, 11, 12, 11.5,
  12, 11.5, 12.5, 12, 12.5, 13.5, 16.8, 14, 12.5, 13,
  12, 12.5, 11.5, 12, 11, 12, 10.5, 12, 19.3, 9,
  12.5, 11.5, 12, 11, 12, 11.5, 14.5, 9, 12, 11.5,
  11, 12, 11.5, 11, 12, 11.5, 11, 12, 11.5, 11,
  11.5, 12, 11, 11.5, 13.9, 12, 11, 11.5, 12, 11,
  12, 11, 11.5, 12, 11, 11.5, 15.1, 9.5, 12, 11.5,
  11, 12, 11.5, 11, 12, 11.5, 12, 11, 11.5, 12,
  11.5, 11, 12, 11.5, 11, 12, 11.5, 11, 12, 11.5,
  11, 12, 11.5, 12, 11.5, 12.5, 12, 13.8, 12.5, 12,
  11.5, 12, 11, 11.5, 12, 11, 11.5, 12, 11, 11.5,
  11, 11.5, 12, 10.5, 12, 11, 11.5, 10.5, 12, 12.5,
  12, 13.5, 12, 11.5, 12, 11.5, 12, 11, 12, 11.5,
  11, 12, 11, 10.5, 8.8, 9.5, 12, 11, 12.5, 11.5,
  12, 11.5, 12.5, 11, 12, 11.5, 12.5, 11.5, 12, 11,
  11.5, 12, 11, 11.5, 12, 11.5, 11, 12, 11.5, 11,
  11.5, 11, 12, 18, 9, 11.5, 11, 12, 13.5, 12.5,
  11.5, 12, 11, 11.5, 12, 11, 11.5, 12, 11.5, 11,
  12, 11.5, 11, 12, 11.5, 11, 12, 11.5, 11, 12,
  11.5, 11, 12, 11.5, 11, 12, 11.5, 11, 11.5, 12,
  11.5];
const braggF = [30.24, 35.59, 37.22, 43.25, 47.29, 53.59, 57.05, 57.25, 62.78, 65.86, 66.1, 67.02];
const hklF = [[29.83,59.4,'(220)'],[35.49,91.9,'(311)'],[38.07,54.4,'(222)'],[43.66,57.5,'(400)'],[53.15,50.8,'(422)'],[57.05,63.1,'(333)(511)'],[62.37,67.8,'(440)']];
const circlesF = [[33.12,30.4],[39.93,28.1],[49.56,26.8]];

// shared labels
const braggRowY = [20.0, 22.3, 22.4, 22.1, 21.8, 22.3];
const xMaxes = [70, 70, 80, 70, 70, 70];
const panelTags = ['(a)', '(b)', '(c)', '(d)', '(e)', '(f)'];
const latticeLabels = ['a = 0.8371(1) nm', 'a = 0.8376(3) nm', 'a = 0.8379(2) nm', 'a = 0.8387(9) nm', 'a = 0.8385(7) nm', 'a = 0.8380(2) nm'];
const scherrerLabels = ['~ 19 nm', '~ 23 nm', '~ 25 nm', '~ 42 nm', '~ 45 nm', '~ 30 nm'];

const panels = [
  {calc: calcA, exp: expA, top: expTopA, diff: diffA, bragg: braggA, hkl: hklA, circles: []},
  {calc: calcB, exp: expB, top: expTopB, diff: diffB, bragg: braggB, hkl: hklB, circles: []},
  {calc: calcC, exp: expC, top: expTopC, diff: diffC, bragg: braggC, hkl: hklC, circles: []},
  {calc: calcD, exp: expD, top: expTopD, diff: diffD, bragg: braggD, hkl: hklD, circles: []},
  {calc: calcE, exp: expE, top: expTopE, diff: diffE, bragg: braggE, hkl: hklE, circles: circlesE},
  {calc: calcF, exp: expF, top: expTopF, diff: diffF, bragg: braggF, hkl: hklF, circles: circlesF}
];

// layout (pixels)
const FONT = 'Liberation Sans';
const gridBoxes = [
  {left: 55, top: 57, width: 1367, height: 929},
  {left: 1488, top: 57, width: 1368, height: 929},
  {left: 55, top: 1127, width: 1367, height: 929},
  {left: 1488, top: 1127, width: 1368, height: 929},
  {left: 55, top: 2197, width: 1367, height: 930},
  {left: 1488, top: 2195, width: 1368, height: 930}
];
const legendPos = [[1047, 102], [2491, 102], [1069, 1150], [2503, 1152], [1066, 2226], [2500, 2221]];
const tagPos = [[151, 150], [1591, 150], [150, 1232], [1591, 1236], [150, 2309], [1581, 2309]];
const textPos = [[645, 120, 180], [2100, 113, 171], [672, 1190, 1246], [2104, 1181, 1241], [666, 2254, 2312], [2104, 2248, 2307]];

function onGrid(vals) {
  return vals.map(function (v, i) { return [+(X0 + i * STEP).toFixed(2), v]; });
}

const legendItems = [
  {name: 'experimantal', icon: 'path://M0,0L0,0M20,20L20,20M6.5,10L10,6.5L13.5,10L10,13.5Z',
   itemStyle: {color: 'rgba(0,0,0,0)', borderColor: '#7f7f7f', borderWidth: 1.6}},
  {name: 'calculated', icon: 'path://M0,0H86V3.2H0Z', itemStyle: {color: '#c0302f', borderWidth: 0}},
  {name: 'difference', icon: 'path://M0,0H86V3.2H0Z', itemStyle: {color: '#1c1ca0', borderWidth: 0}},
  {name: 'Bragg positions', icon: 'path://M0,0H4V22H0Z', itemStyle: {color: '#1d6b22', borderWidth: 0}}
];

const option = {
  animation: false,
  backgroundColor: '#ffffff',
  grid: [], xAxis: [], yAxis: [], series: [], legend: [], graphic: []
};

panels.forEach(function (p, i) {
  option.grid.push(Object.assign({outerBoundsMode: 'none', containLabel: false, show: false}, gridBoxes[i]));

  const tickCommon = {
    gridIndex: i, type: 'value', min: 20, max: xMaxes[i], interval: 10,
    axisLine: {show: true, onZero: false, lineStyle: {color: '#000', width: 3.5}},
    axisTick: {show: true, inside: true, length: 18, lineStyle: {color: '#000', width: 3}},
    minorTick: {show: true, splitNumber: 5, length: 10, lineStyle: {color: '#000', width: 3}},
    splitLine: {show: false}, minorSplitLine: {show: false}
  };
  const isC = i === 2;
  option.xAxis.push(Object.assign({}, tickCommon, {
    position: 'bottom',
    axisLabel: {show: true, fontSize: 40, color: '#000', fontFamily: FONT, margin: 14},
    name: '2θ (°)', nameLocation: 'middle', nameGap: isC ? 39 : 76,
    nameTextStyle: {fontSize: 44, color: '#000', fontFamily: FONT, padding: isC ? [0, 0, 0, 218] : 0}
  }));
  option.xAxis.push(Object.assign({}, tickCommon, {position: 'top', axisLabel: {show: false}, name: ''}));

  const yCommon = {
    gridIndex: i, type: 'value', min: 0, max: 100,
    axisLine: {show: true, onZero: false, lineStyle: {color: '#000', width: 3.5}},
    axisTick: {show: false}, axisLabel: {show: false}, splitLine: {show: false}
  };
  option.yAxis.push(Object.assign({}, yCommon, {position: 'left'}));
  option.yAxis.push(Object.assign({}, yCommon, {position: 'right'}));

  const xi = 2 * i, yi = 2 * i;
  // dense background band of the measured pattern
  option.series.push({
    name: 'experimantal', type: 'scatter', xAxisIndex: xi, yAxisIndex: yi, silent: true, z: 2,
    symbol: 'diamond', symbolSize: [19, 26],
    itemStyle: {color: 'rgba(128,128,128,0.85)', borderColor: '#8a8a8a', borderWidth: 1},
    data: onGrid(p.exp)
  });
  // isolated points near the peak tops
  option.series.push({
    name: 'experimantal', type: 'scatter', xAxisIndex: xi, yAxisIndex: yi, silent: true, z: 2,
    symbol: 'diamond', symbolSize: 11,
    itemStyle: {color: 'rgba(0,0,0,0)', borderColor: '#7a7a7a', borderWidth: 2.2},
    data: p.top
  });
  option.series.push({
    name: 'calculated', type: 'line', xAxisIndex: xi, yAxisIndex: yi, silent: true, z: 4,
    symbol: 'none', color: '#d02628', lineStyle: {color: '#d02628', width: 3.8},
    data: p.calc
  });
  option.series.push({
    name: 'difference', type: 'line', xAxisIndex: xi, yAxisIndex: yi, silent: true, z: 3,
    symbol: 'none', color: '#0a10e6', lineStyle: {color: '#0a10e6', width: 3.6},
    data: onGrid(p.diff)
  });
  option.series.push({
    name: 'Bragg positions', type: 'scatter', xAxisIndex: xi, yAxisIndex: yi, silent: true, z: 3,
    symbol: 'rect', symbolSize: [6, 24], color: '#17601c',
    itemStyle: {color: '#17601c'},
    data: p.bragg.map(function (x) { return [x, braggRowY[i]]; })
  });
  option.series.push({
    name: 'hkl', type: 'scatter', xAxisIndex: xi, yAxisIndex: yi, silent: true, z: 6,
    symbolSize: 1, itemStyle: {color: 'rgba(0,0,0,0)'},
    label: {show: true, position: 'inside', rotate: 90, fontSize: 36, color: '#000', fontFamily: FONT,
            formatter: function (d) { return d.data.name; }},
    data: p.hkl.map(function (h) { return {value: [h[0], h[1]], name: h[2]}; })
  });
  if (p.circles.length) {
    option.series.push({
      name: 'marked', type: 'scatter', xAxisIndex: xi, yAxisIndex: yi, silent: true, z: 7,
      symbol: 'circle', symbolSize: 120,
      itemStyle: {color: 'rgba(0,0,0,0)', borderColor: '#7a2fd0', borderWidth: 3},
      data: p.circles
    });
  }

  option.legend.push({
    orient: 'vertical', left: legendPos[i][0], top: legendPos[i][1],
    padding: [3, 8, 3, 0], itemGap: 3.5, itemWidth: 86, itemHeight: 20, symbolKeepAspect: true,
    borderColor: '#000', borderWidth: 3, backgroundColor: '#fff', selectedMode: false, z: 8,
    textStyle: {fontSize: 34, lineHeight: 40, color: '#000', fontFamily: FONT, padding: [0, 0, 0, 5]},
    data: legendItems
  });

  option.graphic.push({
    type: 'text', x: tagPos[i][0], y: tagPos[i][1], z: 10,
    style: {text: panelTags[i], fontSize: 118, fontWeight: 'bold', fontFamily: 'Lato', fill: '#000',
            align: 'center', verticalAlign: 'middle'}
  });
  const tp = textPos[i];
  option.graphic.push({
    type: 'text', x: tp[0], y: tp[1], z: 10,
    style: {text: latticeLabels[i], fontSize: 44, fontFamily: FONT, fill: '#111', verticalAlign: 'middle'}
  });
  option.graphic.push({
    type: 'text', x: tp[0], y: tp[2], z: 10,
    style: {text: 'd', fontSize: 44, fontFamily: FONT, fill: '#111', verticalAlign: 'middle'}
  });
  option.graphic.push({
    type: 'text', x: tp[0] + 26, y: tp[2] + 21, z: 10,
    style: {text: 'Scherrer', fontSize: 27, fontFamily: FONT, fill: '#111', verticalAlign: 'middle'}
  });
  option.graphic.push({
    type: 'text', x: tp[0] + 130, y: tp[2], z: 10,
    style: {text: scherrerLabels[i], fontSize: 44, fontFamily: FONT, fill: '#111', verticalAlign: 'middle'}
  });
});

const chart = echarts.init(document.getElementById('chart'), null, {renderer: 'canvas'});
chart.setOption(option);
</script>
</body>
</html>
